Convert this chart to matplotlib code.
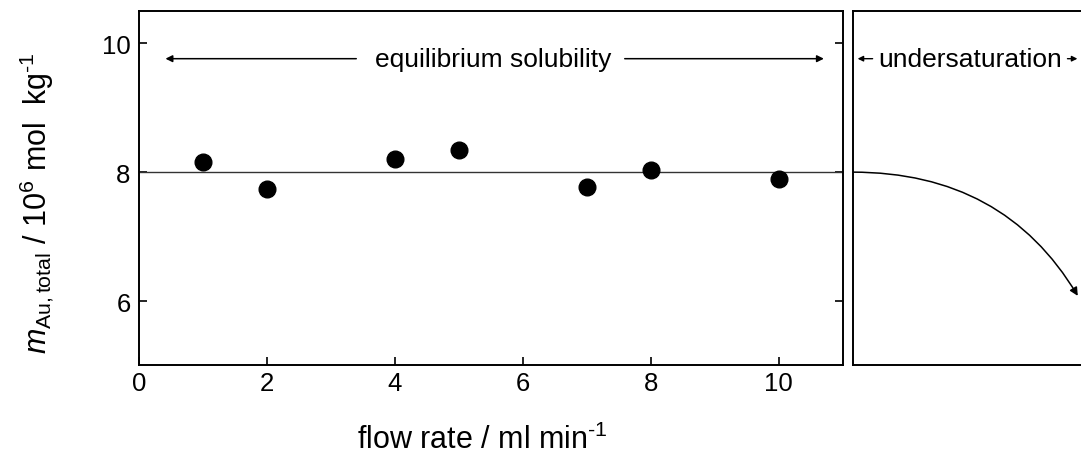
import matplotlib
matplotlib.use("Agg")
import matplotlib.pyplot as plt
from matplotlib.path import Path
from matplotlib.patches import FancyArrowPatch

plt.rcParams['font.family'] = ['Liberation Sans', 'DejaVu Sans']
plt.rcParams['mathtext.fontset'] = 'custom'
plt.rcParams['mathtext.rm'] = 'Liberation Sans'
plt.rcParams['mathtext.it'] = 'Liberation Sans:italic'

# measured gold solubility at different flow rates
flow_rate = [1, 2, 4, 5, 7, 8, 10]
m_au_total = [8.15, 7.74, 8.21, 8.35, 7.77, 8.04, 7.90]
equilibrium_level = 8.0

x_ticks = [0, 2, 4, 6, 8, 10]
y_ticks = [6, 8, 10]

# schematic undersaturation curve (start, control, end) in panel units
curve_start = (0.0, 8.0)
curve_control = (0.566, 8.0)
curve_end = (0.843, 6.08)

fig = plt.figure(figsize=(10.81, 4.56), dpi=100)
ax = fig.add_axes([0.1286, 0.1963, 0.6509, 0.7774])
ax2 = fig.add_axes([0.7888, 0.1963, 0.247, 0.7774])

for a in (ax, ax2):
    for s in a.spines.values():
        s.set_linewidth(1.4)

ax.plot(flow_rate, m_au_total, 'o', color='black', markersize=12, zorder=3)
ax.axhline(equilibrium_level, color='#333333', lw=1.0)
ax.set_xlim(0, 11)
ax.set_ylim(5, 10.5)
ax.set_xticks(x_ticks)
ax.set_yticks(y_ticks)
ax.tick_params(direction='in', length=6, width=1.2, labelsize=18.5, right=True)
ax.tick_params(axis='x', pad=4)
ax.tick_params(axis='y', pad=6)
ax.set_xlabel(r'flow rate / ml min$^{\text{-1}}$', fontsize=22)
ax.xaxis.set_label_coords(0.4875, -0.165)
ax.set_ylabel(r'$m_{\mathrm{Au,total}}$ / 10$^6$ mol  kg$^{\text{-1}}$', fontsize=22)
ax.yaxis.set_label_coords(-0.118, 0.461)

ax.text(5.53, 9.76, 'equilibrium solubility', ha='center', va='center', fontsize=19)
ax.annotate('', xy=(0.37, 9.76), xytext=(3.44, 9.76),
            arrowprops=dict(arrowstyle='-|>', color='black', lw=1.1, mutation_scale=10))
ax.annotate('', xy=(10.75, 9.76), xytext=(7.55, 9.76),
            arrowprops=dict(arrowstyle='-|>', color='black', lw=1.1, mutation_scale=10))

ax2.set_xlim(0, 1)
ax2.set_ylim(5, 10.5)
ax2.set_xticks([])
ax2.set_yticks([])
ax2.text(0.094, 9.76, 'undersaturation', ha='left', va='center', fontsize=19)
ax2.annotate('', xy=(0.008, 9.76), xytext=(0.085, 9.76),
             arrowprops=dict(arrowstyle='-|>', color='black', lw=1.0, mutation_scale=8))
ax2.annotate('', xy=(0.852, 9.76), xytext=(0.794, 9.76),
             arrowprops=dict(arrowstyle='-|>', color='black', lw=1.0, mutation_scale=8))

curve = Path([curve_start, curve_control, curve_end],
             [Path.MOVETO, Path.CURVE3, Path.CURVE3])
arrow = FancyArrowPatch(path=curve, arrowstyle='-|>', color='black', lw=1.1,
                        mutation_scale=12, transform=ax2.transData)
ax2.add_patch(arrow)

fig.savefig('out.png', dpi=100)
